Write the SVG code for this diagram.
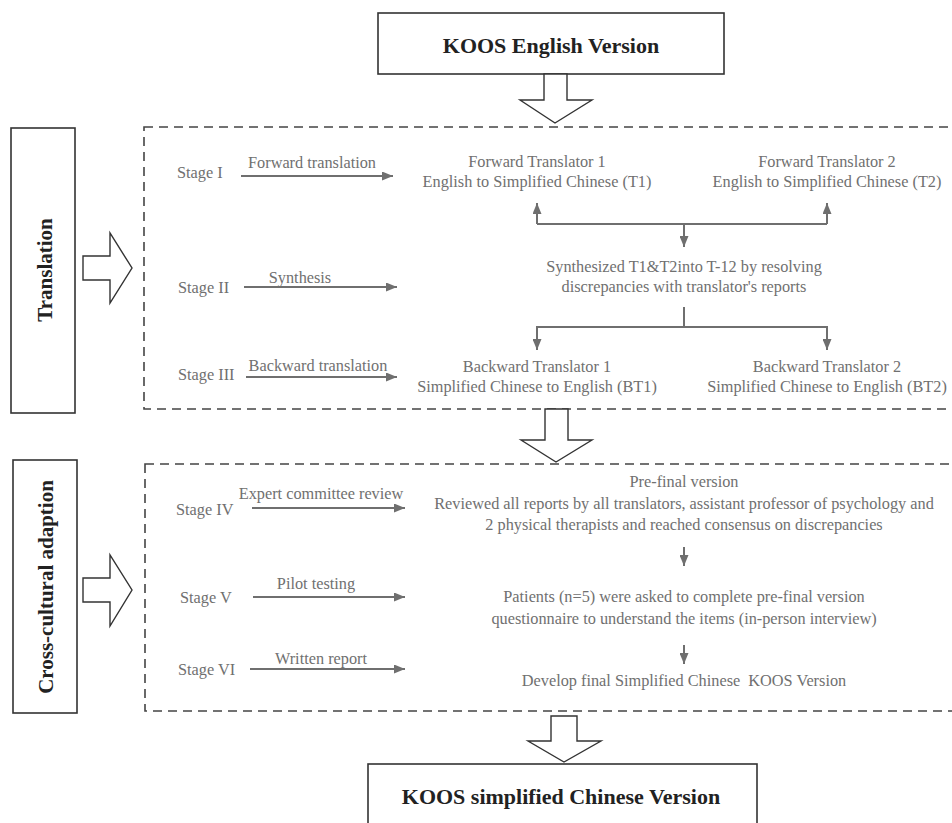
<svg xmlns="http://www.w3.org/2000/svg" width="952" height="823" viewBox="0 0 952 823">
<style>
.box{fill:#fff;stroke:#333;stroke-width:1.6}
.dash{fill:none;stroke:#444;stroke-width:1.6;stroke-dasharray:9,6}
.blk{fill:#fff;stroke:#333;stroke-width:1.4;stroke-linejoin:miter}
.title{font-family:"Liberation Serif",serif;font-weight:bold;font-size:22px;fill:#222;text-anchor:middle}
.side{font-family:"Liberation Serif",serif;font-weight:bold;font-size:21px;fill:#222;text-anchor:middle}
.t{font-family:"Liberation Serif",serif;font-size:16.3px;fill:#707070}
.c{text-anchor:middle}
.ln{fill:none;stroke:#6f6f6f;stroke-width:2}
</style>
<defs>
<marker id="ah" markerUnits="userSpaceOnUse" markerWidth="11" markerHeight="9" refX="11" refY="4.5" orient="auto">
<path d="M0,0 L11,4.5 L0,9 z" fill="#6f6f6f"/>
</marker>
</defs>
<rect width="952" height="823" fill="#fff"/>

<g id="koos-english">
<rect class="box" x="378" y="13" width="346" height="61"/>
<text class="title" x="551" y="52.5">KOOS English Version</text>
</g>

<g id="translation-label">
<rect class="box" x="11" y="128" width="64" height="285"/>
<text class="side" transform="translate(52,270) rotate(-90)">Translation</text>
</g>

<g id="adaption-label">
<rect class="box" x="13" y="460" width="64" height="253"/>
<text class="side" transform="translate(53,587) rotate(-90)">Cross-cultural adaption</text>
</g>

<g id="translation-frame">
<rect class="dash" x="144" y="127" width="830" height="282"/>
</g>
<g id="adaption-frame">
<rect class="dash" x="145" y="464" width="830" height="247"/>
</g>

<g id="block-arrows">
<polygon class="blk" points="544,74 567,74 567,100 592,100 555,123 520,100 544,100"/>
<polygon class="blk" points="545,409 568,409 568,440 592,440 556,462 521,440 545,440"/>
<polygon class="blk" points="551,716 577,716 577,741 601,741 564,762 528,741 551,741"/>
<polygon class="blk" points="83,256 110,256 110,233 132,268 110,303 110,280 83,280"/>
<polygon class="blk" points="83,578 110,578 110,555 132,590 110,626 110,602 83,602"/>
</g>

<g id="stage-labels">
<text class="t" x="177" y="178">Stage I</text>
<text class="t" x="178" y="293">Stage II</text>
<text class="t" x="178" y="380">Stage III</text>
<text class="t" x="176" y="515">Stage IV</text>
<text class="t" x="180" y="603">Stage V</text>
<text class="t" x="178" y="675">Stage VI</text>
</g>

<g id="connectors">
<line class="ln" x1="241" y1="176" x2="393" y2="176" marker-end="url(#ah)"/>
<line class="ln" x1="244" y1="287" x2="397" y2="287" marker-end="url(#ah)"/>
<line class="ln" x1="246" y1="377" x2="397" y2="377" marker-end="url(#ah)"/>
<line class="ln" x1="252" y1="508" x2="405" y2="508" marker-end="url(#ah)"/>
<line class="ln" x1="253" y1="597" x2="405" y2="597" marker-end="url(#ah)"/>
<line class="ln" x1="250" y1="669" x2="405" y2="669" marker-end="url(#ah)"/>
<polyline class="ln" points="537,224 827,224"/>
<line class="ln" x1="537" y1="224" x2="537" y2="203" marker-end="url(#ah)"/>
<line class="ln" x1="827" y1="224" x2="827" y2="203" marker-end="url(#ah)"/>
<line class="ln" x1="684" y1="224" x2="684" y2="247" marker-end="url(#ah)"/>
<line class="ln" x1="684" y1="307" x2="684" y2="327"/>
<polyline class="ln" points="537,327 827,327"/>
<line class="ln" x1="537" y1="326" x2="537" y2="350" marker-end="url(#ah)"/>
<line class="ln" x1="827" y1="326" x2="827" y2="350" marker-end="url(#ah)"/>
<line class="ln" x1="684" y1="547" x2="684" y2="566" marker-end="url(#ah)"/>
<line class="ln" x1="684" y1="645" x2="684" y2="664" marker-end="url(#ah)"/>
<text class="t c" x="312" y="168">Forward translation</text>
<text class="t c" x="300" y="283">Synthesis</text>
<text class="t c" x="318" y="371">Backward translation</text>
<text class="t c" x="321" y="499">Expert committee review</text>
<text class="t c" x="316" y="589">Pilot testing</text>
<text class="t c" x="321" y="664">Written report</text>
</g>

<g id="ft1">
<text class="t c" x="537" y="167">Forward Translator 1</text>
<text class="t c" x="537" y="187">English to Simplified Chinese (T1)</text>
</g>
<g id="ft2">
<text class="t c" x="827" y="167">Forward Translator 2</text>
<text class="t c" x="827" y="187">English to Simplified Chinese (T2)</text>
</g>
<g id="synthesis">
<text class="t c" x="684" y="272">Synthesized T1&amp;T2into T-12 by resolving</text>
<text class="t c" x="684" y="292">discrepancies with translator's reports</text>
</g>
<g id="bt1">
<text class="t c" x="537" y="372">Backward Translator 1</text>
<text class="t c" x="537" y="392">Simplified Chinese to English (BT1)</text>
</g>
<g id="bt2">
<text class="t c" x="827" y="372">Backward Translator 2</text>
<text class="t c" x="827" y="392">Simplified Chinese to English (BT2)</text>
</g>
<g id="prefinal">
<text class="t c" x="684" y="487">Pre-final version</text>
<text class="t c" x="684" y="509">Reviewed all reports by all translators, assistant professor of psychology and</text>
<text class="t c" x="684" y="530">2 physical therapists and reached consensus on discrepancies</text>
</g>
<g id="pilot">
<text class="t c" x="684" y="602">Patients (n=5) were asked to complete pre-final version</text>
<text class="t c" x="684" y="624">questionnaire to understand the items (in-person interview)</text>
</g>
<g id="final">
<text class="t c" x="684" y="686" xml:space="preserve">Develop final Simplified Chinese  KOOS Version</text>
</g>

<g id="koos-chinese">
<rect class="box" x="368" y="764" width="389" height="80"/>
<text class="title" x="561" y="804">KOOS simplified Chinese Version</text>
</g>
</svg>
